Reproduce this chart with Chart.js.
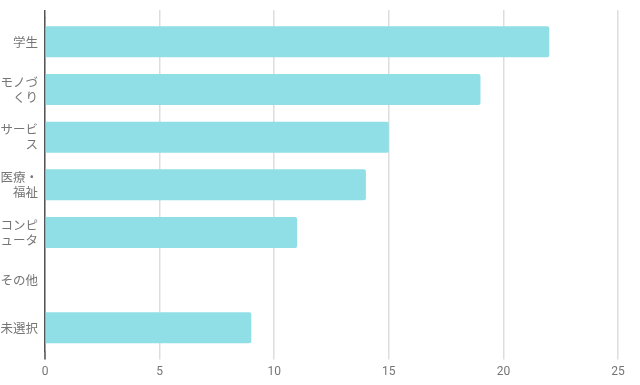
<!DOCTYPE html>
<html>
<head>
<meta charset="utf-8">
<script src="https://cdn.jsdelivr.net/npm/chart.js@4"></script>
<style>
  html, body { margin: 0; padding: 0; background: #fff; }
</style>
</head>
<body>
<canvas id="chart" width="640" height="385"></canvas>
<script>
// categories (multi-line labels as shown in the picture)
const categories = [
    ["学生"],
    ["モノづ", "くり"],
    ["サービ", "ス"],
    ["医療・", "福祉"],
    ["コンピ", "ュータ"],
    ["その他"],
    ["未選択"]
];
const counts = [22, 19, 15, 14, 11, 0, 9];
const xTicks = [0, 5, 10, 15, 20, 25];

const barColor = "#90dfe6";
const gridColor = "#dddddd";
const textColor = "#757575";

document.addEventListener("DOMContentLoaded", () => {
    const ctx = document.getElementById("chart").getContext("2d");

    new Chart(ctx, {
        type: "bar",
        data: {
            labels: categories,
            datasets: [{
                data: counts,
                backgroundColor: barColor,
                borderRadius: 2,
                borderSkipped: "start",
                barPercentage: 0.65,
                categoryPercentage: 1
            }]
        },
        options: {
            indexAxis: "y",
            responsive: false,
            animation: false,
            layout: { padding: { top: 10, right: 22, left: 0, bottom: 0 } },
            plugins: {
                legend: { display: false },
                tooltip: { enabled: false }
            },
            scales: {
                x: {
                    min: xTicks[0],
                    max: xTicks[xTicks.length - 1],
                    afterBuildTicks: (scale) => {
                        scale.ticks = xTicks.map(v => ({ value: v }));
                    },
                    grid: {
                        color: gridColor,
                        lineWidth: 1.5,
                        tickLength: 8,
                        tickColor: gridColor
                    },
                    border: { display: false },
                    ticks: {
                        color: textColor,
                        padding: 5.5,
                        font: { family: "Roboto", size: 12 }
                    }
                },
                xTop: {
                    position: "top",
                    axis: "x",
                    min: xTicks[0],
                    max: xTicks[xTicks.length - 1],
                    afterBuildTicks: (scale) => {
                        scale.ticks = xTicks.map(v => ({ value: v }));
                    },
                    grid: {
                        drawOnChartArea: false,
                        color: (c) => c.tick && c.tick.value === 0 ? "#555555" : gridColor,
                        lineWidth: 1.5,
                        tickLength: 8
                    },
                    border: { display: false },
                    ticks: { display: false }
                },
                y: {
                    afterFit: (scale) => { scale.width = 45; },
                    grid: { display: false, drawTicks: false },
                    border: { display: true, color: "#555555", width: 1.5 },
                    ticks: {
                        autoSkip: false,
                        color: textColor,
                        padding: 7,
                        font: { family: "'Noto Sans CJK JP'", size: 12.5, lineHeight: 1.2 }
                    }
                }
            }
        },
        plugins: [{
            // extend the y-axis line over the x tick marks at the bottom
            id: "axisExtend",
            afterDraw(chart) {
                const { ctx, chartArea } = chart;
                const x0 = chart.scales.x.getPixelForValue(0);
                ctx.save();
                ctx.strokeStyle = "#555555";
                ctx.lineWidth = 1.5;
                ctx.beginPath();
                ctx.moveTo(x0, chartArea.bottom);
                ctx.lineTo(x0, chartArea.bottom + 8);
                ctx.stroke();
                ctx.restore();
            }
        }]
    });
});
</script>
</body>
</html>
